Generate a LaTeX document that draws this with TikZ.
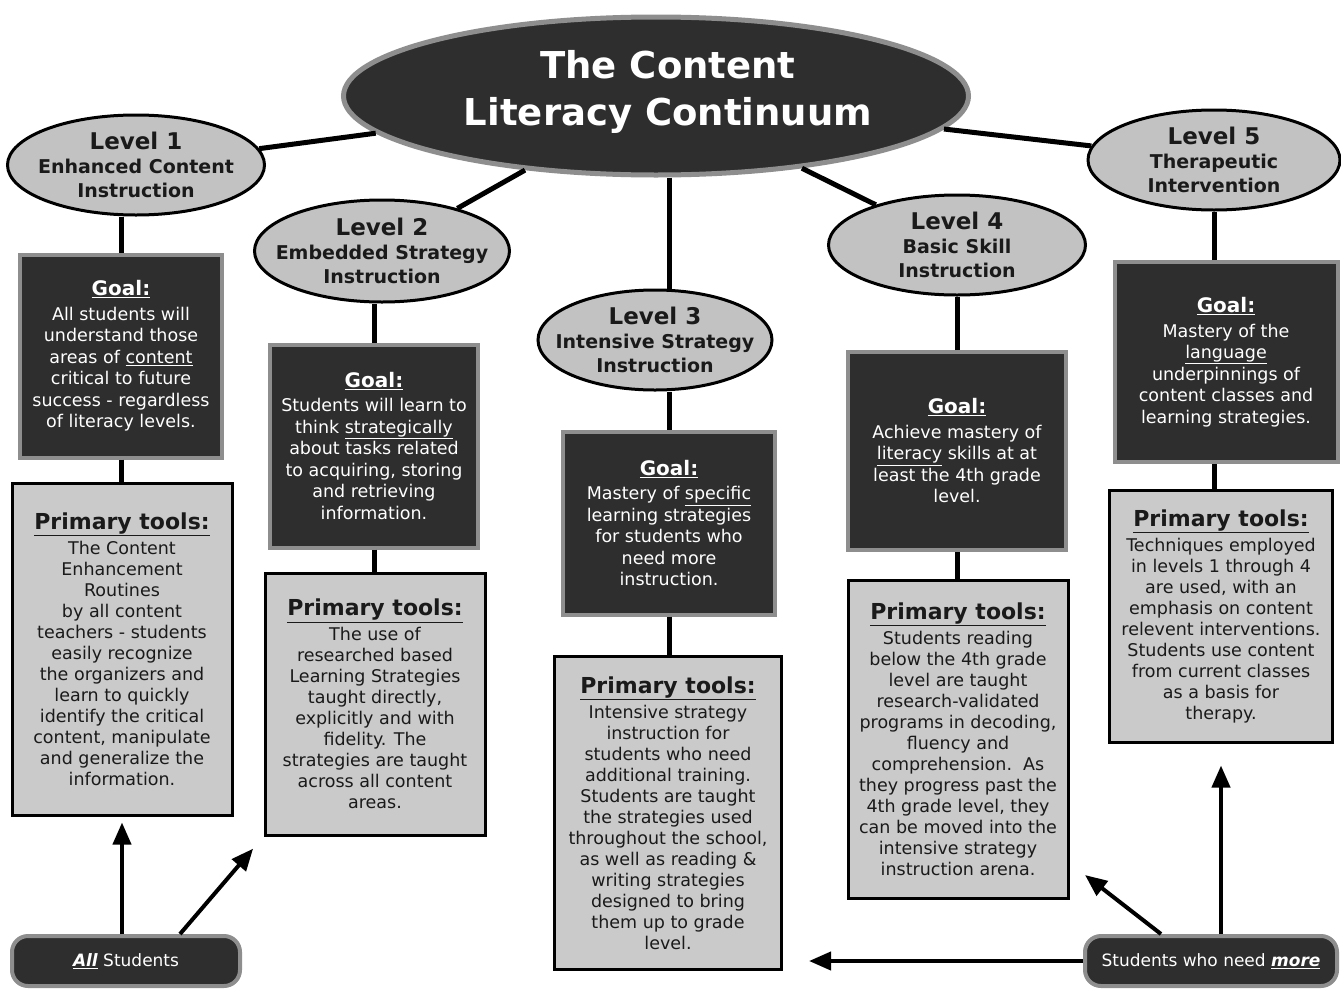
\documentclass[tikz,border=0pt]{standalone}
\usepackage{fontspec}
\setmainfont{DejaVu Sans}
\usetikzlibrary{shapes.geometric,arrows.meta}
\definecolor{darkfill}{HTML}{2E2E2E}
\definecolor{halo}{HTML}{8E8E8E}
\definecolor{lightfill}{HTML}{CACACA}
\definecolor{ellfill}{HTML}{C2C2C2}
\definecolor{ink}{HTML}{1A1A1A}
\newcommand{\goalhead}{{\fontsize{20}{24}\selectfont\bfseries\underline{Goal:}}}
\newcommand{\toolhead}{{\fontsize{22}{26}\selectfont\bfseries\underline{Primary tools:}}}
\newcommand{\lvlhead}[1]{{\fontsize{23}{26}\selectfont #1}}
\begin{document}
\begin{tikzpicture}[x=1pt,y=-1pt,
 titleell/.style={ellipse, fill=darkfill, draw=halo, line width=5pt, minimum width=625pt, minimum height=158pt, inner sep=0pt},
 titletext/.style={text=white, font=\fontsize{37}{47}\selectfont\bfseries, align=center, inner sep=0pt},
 lvl/.style={ellipse, fill=ellfill, draw=black, line width=3pt, inner sep=0pt},
 lvltext/.style={align=center, font=\fontsize{19}{24}\selectfont\bfseries, text=ink, inner sep=0pt},
 goalbox/.style={rectangle, fill=darkfill, draw=halo, line width=4pt, text=white, align=center, font=\fontsize{17.5}{21.5}\selectfont, inner sep=0pt},
 toolbox/.style={rectangle, fill=lightfill, draw=black, line width=3pt, text=ink, align=center, font=\fontsize{17.5}{21}\selectfont, inner sep=0pt},
 conn/.style={line width=5pt, draw=black},
 arr/.style={line width=4pt, draw=black, -{Triangle[length=22pt,width=18pt]}},
 pill/.style={rectangle, rounded corners=16pt, fill=darkfill, draw=halo, line width=4pt, text=white, font=\fontsize{17}{20}\selectfont, minimum height=50pt}
]
\useasboundingbox (0,0) rectangle (1341,988);
\fill[white] (0,0) rectangle (1341,988);

% title
\node[titleell] (title) at (656,96) {};
\node[titletext] (titlet) at (668,92) {The Content\\Literacy Continuum};

% levels
\node[lvl, minimum width=257pt, minimum height=100pt] (l1) at (136,165) {};
\node[lvltext] (l1t) at (l1) {\lvlhead{Level 1}\\Enhanced Content\\Instruction};
\node[lvl, minimum width=255pt, minimum height=102pt] (l2) at (382,251) {};
\node[lvltext] (l2t) at (l2) {\lvlhead{Level 2}\\Embedded Strategy\\Instruction};
\node[lvl, minimum width=234pt, minimum height=100pt] (l3) at (655,340) {};
\node[lvltext] (l3t) at (l3) {\lvlhead{Level 3}\\Intensive Strategy\\Instruction};
\node[lvl, minimum width=257pt, minimum height=100pt] (l4) at (957,245) {};
\node[lvltext] (l4t) at (l4) {\lvlhead{Level 4}\\Basic Skill\\Instruction};
\node[lvl, minimum width=252pt, minimum height=100pt] (l5) at (1214,160) {};
\node[lvltext] (l5t) at (l5) {\lvlhead{Level 5}\\Therapeutic\\Intervention};

% goal boxes
\node[goalbox, minimum width=202pt, minimum height=203pt] (g1) at (121,356) {\goalhead\\[3pt]All students will\\understand those\\areas of \underline{content}\\critical to future\\success - regardless\\of literacy levels.};
\node[goalbox, minimum width=208pt, minimum height=203pt] (g2) at (374,446) {\goalhead\\[3pt]Students will learn to\\think \underline{strategically}\\about tasks related\\to acquiring, storing\\and retrieving\\information.};
\node[goalbox, minimum width=212pt, minimum height=183pt] (g3) at (669,523) {\goalhead\\[3pt]Mastery of \underline{specific}\\learning strategies\\for students who\\need more\\instruction.};
\node[goalbox, minimum width=218pt, minimum height=198pt] (g4) at (957,451) {\goalhead\\[3pt]Achieve mastery of\\\underline{literacy} skills at at\\least the 4th grade\\level.};
\node[goalbox, minimum width=223pt, minimum height=200pt] (g5) at (1226,362) {\goalhead\\[3pt]Mastery of the\\\underline{language}\\underpinnings of\\content classes and\\learning strategies.};

% tool boxes
\node[toolbox, minimum width=220pt, minimum height=332pt] (t1) at (122,649) {\toolhead\\[4pt]The Content\\Enhancement\\Routines\\by all content\\teachers - students\\easily recognize\\the organizers and\\learn to quickly\\identify the critical\\content, manipulate\\and generalize the\\information.};
\node[toolbox, minimum width=220pt, minimum height=262pt] (t2) at (375,704) {\toolhead\\[4pt]The use of\\researched based\\Learning Strategies\\taught directly,\\explicitly and with\\fidelity. The\\strategies are taught\\across all content\\areas.};
\node[toolbox, minimum width=227pt, minimum height=313pt] (t3) at (668,813) {\toolhead\\[4pt]Intensive strategy\\instruction for\\students who need\\additional training.\\Students are taught\\the strategies used\\throughout the school,\\as well as reading \&\\writing strategies\\designed to bring\\them up to grade\\level.};
\node[toolbox, minimum width=220pt, minimum height=318pt] (t4) at (958,739) {\toolhead\\[4pt]Students reading\\below the 4th grade\\level are taught\\research-validated\\programs in decoding,\\fluency and\\comprehension.\ \ As\\they progress past the\\4th grade level, they\\can be moved into the\\intensive strategy\\instruction arena.};
\node[toolbox, minimum width=223pt, minimum height=252pt] (t5) at (1221,616) {\toolhead\\[4pt]Techniques employed\\in levels 1 through 4\\are used, with an\\emphasis on content\\relevent interventions.\\Students use content\\from current classes\\as a basis for\\therapy.};

% bottom pills
\node[pill, minimum width=228pt] (all) at (126,961) {{\bfseries\itshape\underline{All}} Students};
\node[pill, minimum width=252pt] (more) at (1211,961) {Students who need {\bfseries\itshape\underline{more}}};

% connectors from title
\draw[conn] (l1) -- (title);
\draw[conn] (l2) -- (title);
\draw[conn] (l4) -- (title);
\draw[conn] (l5) -- (title);
\draw[conn] (g3.north |- title.south) -- (g3.north |- l3.north);

% vertical connectors
\draw[conn] (g1.north) -- (g1.north |- l1.south);
\draw[conn] (g1.south) -- (g1.south |- t1.north);
\draw[conn] (g2.north) -- (g2.north |- l2.south);
\draw[conn] (g2.south) -- (g2.south |- t2.north);
\draw[conn] (g3.north) -- (g3.north |- l3.south);
\draw[conn] (g3.south) -- (g3.south |- t3.north);
\draw[conn] (g4.north) -- (g4.north |- l4.south);
\draw[conn] (g4.south) -- (g4.south |- t4.north);
\draw[conn] (l5.south |- g5.north) -- (l5.south);
\draw[conn] (l5.south |- g5.south) -- (l5.south |- t5.north);

% arrows
\coordinate (b2) at (1085,875);
\draw[arr, shorten >=6pt] (all.north -| t1.south) -- (t1.south);
\draw[arr, shorten >=16pt] ([xshift=54pt]all.north) -- (t2.south west);
\draw[arr, shorten >=26pt] (more.west) -- (more.west -| t3.east);
\draw[arr] ([xshift=-50pt]more.north) -- (b2);
\draw[arr, shorten >=22pt] (more.north -| t5.south) -- (t5.south);
\end{tikzpicture}
\end{document}
